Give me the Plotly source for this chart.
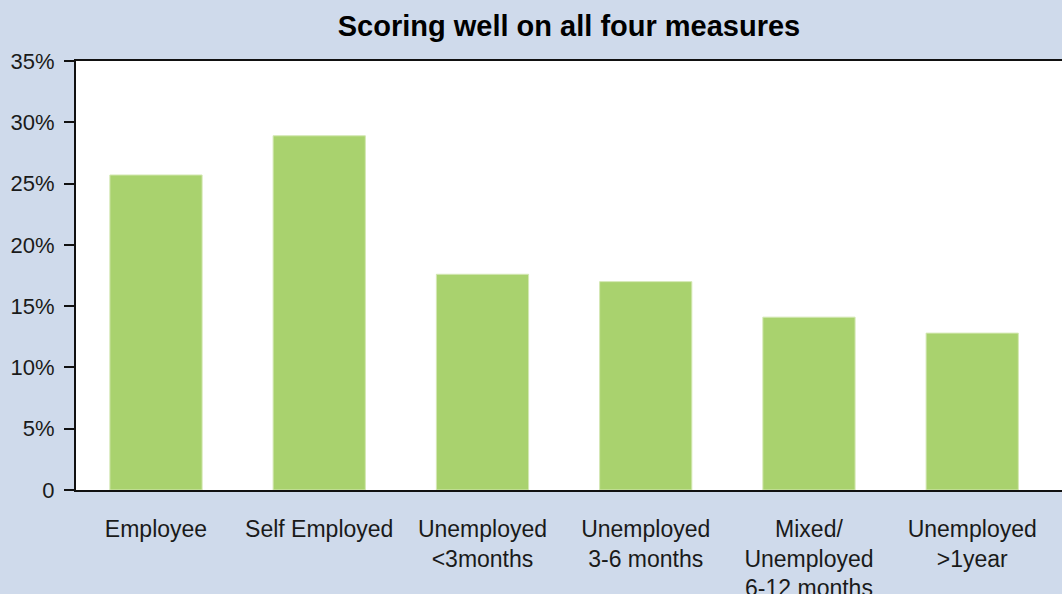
import plotly.graph_objects as go

categories = ["Employee", "Self Employed", "Unemployed<br>&lt;3months",
              "Unemployed<br>3-6 months", "Mixed/<br>Unemployed<br>6-12 months",
              "Unemployed<br>&gt;1year"]
values = [25.7, 28.9, 17.6, 17.0, 14.1, 12.8]
ytick_vals = [0, 5, 10, 15, 20, 25, 30, 35]
ytick_text = ["0", "5%", "10%", "15%", "20%", "25%", "30%", "35%"]
title = "Scoring well on all four measures"

fig = go.Figure(go.Bar(
    x=list(range(len(categories))), y=values,
    marker=dict(color="#a9d26e", line=dict(color="#d4e8b4", width=1)),
    width=0.565,
))

fig.update_layout(
    width=1062, height=594,
    margin=dict(l=76, r=0, t=61, b=104, autoexpand=False),
    paper_bgcolor="#cfdaeb", plot_bgcolor="#ffffff",
    font=dict(family="Liberation Sans, Arial, sans-serif", size=22, color="#1a1a1a"),
    title=dict(text="<b>" + title + "</b>", x=0.5, xref="paper", xanchor="center",
               y=1 - 26 / 594, yanchor="middle",
               font=dict(size=29, color="#000000")),
    showlegend=False,
)
fig.update_xaxes(
    range=[-0.49, 5.55], tickvals=list(range(len(categories))), ticktext=categories,
    showline=True, linecolor="#111111", linewidth=2, mirror=True,
    ticks="", showgrid=False, zeroline=False, ticklabelstandoff=17,
    tickfont=dict(size=23, color="#1a1a1a"), automargin=False,
)
fig.update_yaxes(
    range=[0, 35], tickvals=ytick_vals, ticktext=ytick_text,
    showline=True, linecolor="#111111", linewidth=2,
    ticks="outside", ticklen=10, tickwidth=1.5, tickcolor="#111111",
    showgrid=False, zeroline=False, ticklabelstandoff=5,
    tickfont=dict(size=22, color="#1a1a1a"), automargin=False,
)

fig.write_html("out.html", config={"displayModeBar": False},
               post_script="document.body.style.margin='0px';")
